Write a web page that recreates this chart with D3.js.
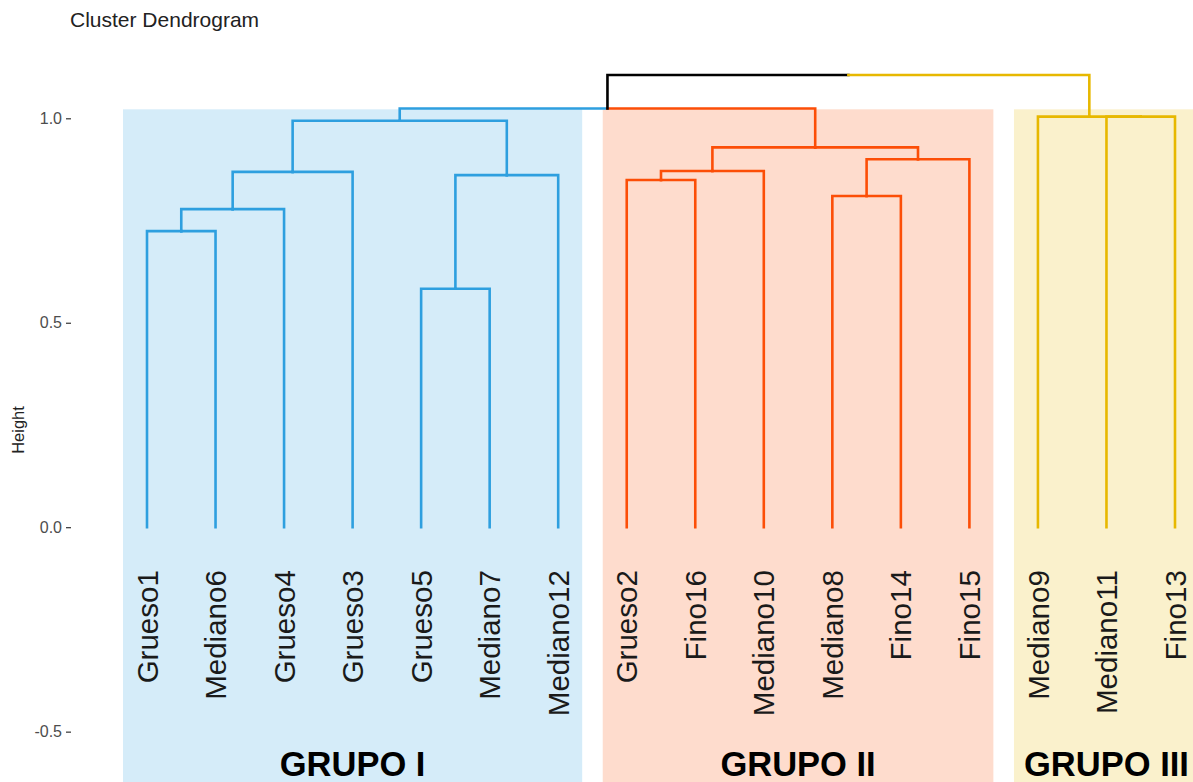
<!DOCTYPE html>
<html>
<head>
<meta charset="utf-8">
<script src="https://cdn.jsdelivr.net/npm/d3@7"></script>
<style>
  body { margin: 0; background: #fff; }
  text { font-family: Arial, "Liberation Sans", sans-serif; }
</style>
</head>
<body>
<div id="vis"></div>
<script>
// Hojas en el orden del dendrograma
const leafLabels = ["Grueso1", "Mediano6", "Grueso4", "Grueso3", "Grueso5", "Mediano7", "Mediano12",
  "Grueso2", "Fino16", "Mediano10", "Mediano8", "Fino14", "Fino15",
  "Mediano9", "Mediano11", "Fino13"];

// Uniones estilo hclust: negativo = hoja (1-based en leafLabels), positivo = unión previa
const mergeLeft  = [-5, -1, 2, -11, -8, 1, 3, 5, 4, 8, 7, -15, -14, 11, 14];
const mergeRight = [-6, -2, -3, -12, -9, -7, -4, -10, -13, 9, 6, -16, 12, 10, 13];
const mergeHeight = [0.583, 0.724, 0.778, 0.810, 0.849, 0.861, 0.869, 0.871, 0.900, 0.929, 0.994, 1.004, 1.004, 1.024, 1.106];

// Grupos (k = 3)
const groupNames = ["GRUPO I", "GRUPO II", "GRUPO III"];
const groupSizes = [7, 6, 3];
const groupColors = ["#2E9FDF", "#FC4E07", "#E7B800"];
const rectTop = 1.022;
const rectBottom = -0.7;

const yTicks = [1.0, 0.5, 0.0, -0.5];

const W = 1193, H = 782;

const SVG = d3.select("#vis").append("svg")
  .attr("width", W)
  .attr("height", H);

const escalaX = d3.scaleLinear().domain([0, leafLabels.length - 1]).range([147, 1175]);
const escalaY = d3.scaleLinear().domain([0, 1.5]).range([527.2, 527.2 - 1.5 * 408.9]);

// grupo de cada hoja
const leafGroup = [];
groupSizes.forEach((n, g) => { for (let i = 0; i < n; i++) leafGroup.push(g); });

// construir nodos
const nodes = [];
function leafNode(i) { return { x: escalaX(i), h: 0, group: leafGroup[i] }; }
function getNode(ref) { return ref < 0 ? leafNode(-ref - 1) : nodes[ref - 1]; }
mergeHeight.forEach((h, k) => {
  const a = getNode(mergeLeft[k]);
  const b = getNode(mergeRight[k]);
  nodes.push({
    x: (a.x + b.x) / 2,
    h: h,
    children: [a, b],
    group: a.group === b.group ? a.group : -1
  });
});

// rectángulos de grupos
let start = 0;
const grupos = groupSizes.map((n, g) => {
  const d = { name: groupNames[g], first: start, last: start + n - 1, color: groupColors[g] };
  start += n;
  return d;
});

SVG.append("g").selectAll("rect")
  .data(grupos)
  .join("rect")
  .attr("x", d => escalaX(d.first - 0.35))
  .attr("width", d => escalaX(d.last + 0.35) - escalaX(d.first - 0.35))
  .attr("y", escalaY(rectTop))
  .attr("height", escalaY(rectBottom) - escalaY(rectTop))
  .attr("fill", d => d.color)
  .attr("fill-opacity", 0.2);

// segmentos del dendrograma
const segs = [];
nodes.forEach(n => {
  n.children.forEach(c => {
    const color = c.group >= 0 ? groupColors[c.group] : "#000";
    segs.push({ color, path: `M${n.x},${escalaY(n.h)}H${c.x}V${escalaY(c.h)}` });
  });
});

SVG.append("g").selectAll("path")
  .data(segs)
  .join("path")
  .attr("d", d => d.path)
  .attr("fill", "none")
  .attr("stroke", d => d.color)
  .attr("stroke-width", 2.6)
  .attr("stroke-linecap", "square");

// etiquetas de hojas
SVG.append("g").selectAll("text")
  .data(leafLabels)
  .join("text")
  .attr("transform", (d, i) => `translate(${escalaX(i)},${escalaY(0) + 43}) rotate(-90)`)
  .attr("text-anchor", "end")
  .attr("dy", "0.36em")
  .attr("font-size", 29.5)
  .attr("fill", "#1a1a1a")
  .text(d => d);

// nombres de grupos
SVG.append("g").selectAll("text")
  .data(grupos)
  .join("text")
  .attr("x", d => escalaX((d.first + d.last) / 2))
  .attr("y", 776)
  .attr("text-anchor", "middle")
  .attr("font-size", 34.5)
  .attr("font-weight", "bold")
  .attr("fill", "#000")
  .text(d => d.name);

// eje y
const fmt = d3.format(".1f");
const ejeY = SVG.append("g")
  .attr("transform", "translate(71,0)")
  .call(d3.axisLeft(escalaY).tickValues(yTicks).tickFormat(d => fmt(d).replace("\u2212", "-")).tickSize(5).tickPadding(4));
ejeY.select(".domain").remove();
ejeY.selectAll(".tick line").attr("stroke", "#333").attr("stroke-width", 1.2);
ejeY.selectAll(".tick text")
  .attr("font-size", 16)
  .attr("fill", "#4d4d4d")
  .style("font-family", "Arial, 'Liberation Sans', sans-serif");

SVG.append("text")
  .attr("transform", "translate(24,430) rotate(-90)")
  .attr("text-anchor", "middle")
  .attr("font-size", 16.5)
  .attr("fill", "#222")
  .text("Height");

SVG.append("text")
  .attr("x", 70)
  .attr("y", 27)
  .attr("font-size", 21)
  .attr("fill", "#222")
  .text("Cluster Dendrogram");
</script>
</body>
</html>
